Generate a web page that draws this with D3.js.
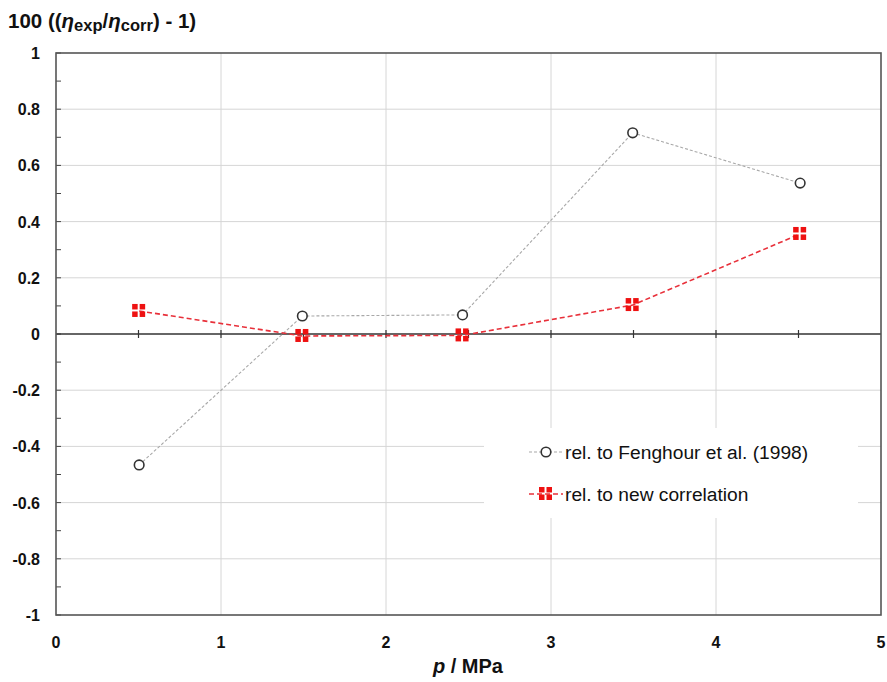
<!DOCTYPE html>
<html>
<head>
<meta charset="utf-8">
<script src="https://cdn.jsdelivr.net/npm/d3@7"></script>
<style>
  html, body { margin: 0; padding: 0; background: #fff; }
  svg text { font-family: "Liberation Sans", Arial, Helvetica, sans-serif; }
</style>
</head>
<body>
<svg id="chart" width="887" height="682"></svg>
<script>
// Pressure (MPa) and relative deviations (%)
const pressure = [0.504, 1.493, 2.464, 3.495, 4.51];
const devFenghour = [-0.466, 0.064, 0.068, 0.716, 0.537];
const devNewCorr = [0.082, -0.007, -0.005, 0.103, 0.356];
const seriesNames = ["rel. to Fenghour et al. (1998)", "rel. to new correlation"];
const xTicks = [0, 1, 2, 3, 4, 5];
const yTicks = [-1, -0.8, -0.6, -0.4, -0.2, 0, 0.2, 0.4, 0.6, 0.8, 1];
const yMinorTicks = d3.range(-10, 11).map(d => d / 10);
const zeroLineTicks = d3.range(1, 10).map(d => d / 2);

const svg = d3.select("#chart");
const plotL = 56, plotR = 881, plotT = 53, plotB = 615;

const x = d3.scaleLinear().domain([0, 5]).range([plotL, plotR]);
const y = d3.scaleLinear().domain([-1, 1]).range([plotB, plotT]);

// grid
const grid = svg.append("g");
grid.selectAll(".gx").data(xTicks.slice(1, -1)).enter().append("line")
  .attr("x1", d => x(d)).attr("x2", d => x(d))
  .attr("y1", plotT).attr("y2", plotB)
  .attr("stroke", "#d6d6d6").attr("stroke-width", 1);
grid.selectAll(".gy").data(yTicks.filter(d => d !== 0 && Math.abs(d) !== 1)).enter().append("line")
  .attr("x1", plotL).attr("x2", plotR)
  .attr("y1", d => y(d)).attr("y2", d => y(d))
  .attr("stroke", "#d6d6d6").attr("stroke-width", 1);

// y minor ticks on left axis (pointing inward)
svg.append("g").selectAll("line").data(yMinorTicks).enter().append("line")
  .attr("x1", plotL).attr("x2", plotL + 5)
  .attr("y1", d => y(d)).attr("y2", d => y(d))
  .attr("stroke", "#444").attr("stroke-width", 1);

// zero line with crossing ticks
svg.append("line")
  .attr("x1", plotL).attr("x2", plotR)
  .attr("y1", y(0)).attr("y2", y(0))
  .attr("stroke", "#333").attr("stroke-width", 1.5);
svg.append("g").selectAll("line").data(zeroLineTicks).enter().append("line")
  .attr("x1", d => x(d)).attr("x2", d => x(d))
  .attr("y1", y(0) - 4).attr("y2", y(0) + 4)
  .attr("stroke", "#333").attr("stroke-width", 1.2);

// frame
svg.append("rect")
  .attr("x", plotL).attr("y", plotT)
  .attr("width", plotR - plotL).attr("height", plotB - plotT)
  .attr("fill", "none").attr("stroke", "#555").attr("stroke-width", 1.6);

// tick labels
const fmtY = d => String(d).replace("−", "-");
svg.append("g").selectAll("text").data(yTicks).enter().append("text")
  .attr("x", 40).attr("y", d => y(d) + 6)
  .attr("text-anchor", "end")
  .attr("font-size", 16).attr("font-weight", "bold").attr("fill", "#111")
  .text(fmtY);
svg.append("g").selectAll("text").data(xTicks).enter().append("text")
  .attr("x", d => x(d)).attr("y", 648)
  .attr("text-anchor", "middle")
  .attr("font-size", 16).attr("font-weight", "bold").attr("fill", "#111")
  .text(d => d);

// axis titles
const xt = svg.append("text")
  .attr("x", 468).attr("y", 673)
  .attr("text-anchor", "middle")
  .attr("font-size", 20).attr("font-weight", "bold").attr("fill", "#111");
xt.append("tspan").attr("font-style", "italic").text("p");
xt.append("tspan").text(" / MPa");

const yt = svg.append("text")
  .attr("x", 8).attr("y", 28)
  .attr("font-size", 20.5).attr("font-weight", "bold").attr("fill", "#111");
yt.append("tspan").text("100 ((");
yt.append("tspan").attr("font-style", "italic").text("η");
yt.append("tspan").attr("font-size", 16.5).attr("dy", 3).text("exp");
yt.append("tspan").attr("dy", -3).text("/");
yt.append("tspan").attr("font-style", "italic").text("η");
yt.append("tspan").attr("font-size", 16.5).attr("dy", 3).text("corr");
yt.append("tspan").attr("dy", -3).text(") - 1)");

// series lines
const line = d3.line().x(d => x(d[0])).y(d => y(d[1]));
const ptsF = pressure.map((p, i) => [p, devFenghour[i]]);
const ptsN = pressure.map((p, i) => [p, devNewCorr[i]]);

svg.append("path").datum(ptsF).attr("d", line)
  .attr("fill", "none").attr("stroke", "#a8a8a8")
  .attr("stroke-width", 1.1).attr("stroke-dasharray", "3,2");
svg.append("path").datum(ptsN).attr("d", line)
  .attr("fill", "none").attr("stroke", "#e8303a")
  .attr("stroke-width", 1.6).attr("stroke-dasharray", "5,3");

// markers
function circleMarker(g, cx, cy) {
  g.append("circle").attr("cx", cx).attr("cy", cy).attr("r", 4.8)
    .attr("fill", "#fff").attr("stroke", "#333").attr("stroke-width", 1.6);
}
function squareMarker(g, cx, cy) {
  const s = 5.5;
  [[-1, -1], [0, -1], [-1, 0], [0, 0]].forEach(([i, j]) => {
    g.append("rect")
      .attr("x", cx + i * (s + 1) + (i === 0 ? 0.5 : -0.5))
      .attr("y", cy + j * (s + 1) + (j === 0 ? 0.5 : -0.5))
      .attr("width", s).attr("height", s)
      .attr("fill", "#ee1111");
  });
}
const mk = svg.append("g");
ptsF.forEach(d => circleMarker(mk, x(d[0]), y(d[1])));
ptsN.forEach(d => squareMarker(mk, x(d[0]), y(d[1])));

// legend
const lg = svg.append("g");
lg.append("rect").attr("x", 484).attr("y", 428).attr("width", 374).attr("height", 90).attr("fill", "#fff");
const legendRows = [
  { y: 452, stroke: "#a8a8a8", dash: "3,2", w: 1.1, marker: circleMarker },
  { y: 494, stroke: "#e8303a", dash: "5,3", w: 1.6, marker: squareMarker }
];
legendRows.forEach((r, i) => {
  lg.append("line").attr("x1", 529).attr("x2", 563)
    .attr("y1", r.y).attr("y2", r.y)
    .attr("stroke", r.stroke).attr("stroke-width", r.w).attr("stroke-dasharray", r.dash);
  r.marker(lg, 546, r.y);
  lg.append("text").attr("x", 565).attr("y", r.y + 6.5)
    .attr("font-size", 19.2).attr("fill", "#111")
    .text(seriesNames[i]);
});
</script>
</body>
</html>
